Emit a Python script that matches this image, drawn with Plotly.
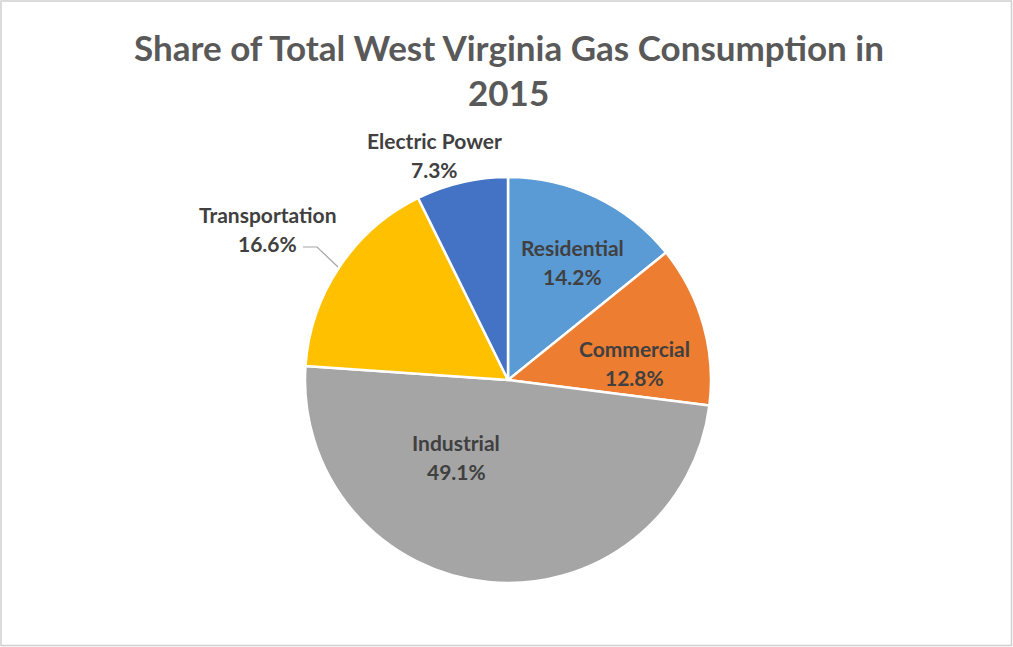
import plotly.graph_objects as go

categories = ["Residential", "Commercial", "Industrial", "Transportation", "Electric Power"]
shares = [14.2, 12.8, 49.1, 16.6, 7.3]
colors = ["#5B9BD5", "#ED7D31", "#A5A5A5", "#FFC000", "#4472C4"]
title_text = "Share of Total West Virginia Gas Consumption in<br>2015"

W, H = 1013, 647
# label block centers (pixels) for each category
label_px = {
    "Residential": (572, 262),
    "Commercial": (634, 363),
    "Industrial": (456, 457),
    "Transportation": (267, 229),
    "Electric Power": (434, 155),
}

def px(x, y):
    return x / W, 1 - y / H

FONT = "Lato, 'Open Sans', sans-serif"
LABEL_COLOR = "#404040"

fig = go.Figure(go.Pie(
    labels=categories,
    values=shares,
    sort=False,
    direction="clockwise",
    rotation=0,
    marker=dict(colors=colors, line=dict(color="white", width=2.5)),
    textinfo="none",
    hoverinfo="label+percent",
    showlegend=False,
    domain=dict(x=[305 / W, 711 / W], y=[1 - 583 / H, 1 - 177 / H]),
))

annotations = []
for cat, val in zip(categories, shares):
    cx, cy = label_px[cat]
    for txt, dy in ((cat, -14.5), (f"{val:.1f}%", 14.5)):
        x, y = px(cx, cy + dy)
        annotations.append(dict(
            x=x, y=y, xref="paper", yref="paper", text=f"<b>{txt}</b>",
            showarrow=False, xanchor="center", yanchor="middle",
            font=dict(family=FONT, size=21, color=LABEL_COLOR),
        ))

# title lines
for line, ty in ((title_text.split("<br>")[0], 47), (title_text.split("<br>")[1], 92)):
    x, y = px(W / 2 + 2, ty)
    annotations.append(dict(
        x=x, y=y, xref="paper", yref="paper", text=f"<b>{line}</b>",
        showarrow=False, xanchor="center", yanchor="middle",
        font=dict(family=FONT, size=35, color="#595959"),
    ))

# leader line for Transportation
p1 = px(303, 247)
p2 = px(317, 247)
p3 = px(338, 267)
shapes = [
    dict(type="path", xref="paper", yref="paper",
         path=f"M {p1[0]} {p1[1]} L {p2[0]} {p2[1]} L {p3[0]} {p3[1]}",
         line=dict(color="#A6A6A6", width=1.2)),
    dict(type="rect", xref="paper", yref="paper",
         x0=1 / W, x1=1 - 1.5 / W, y0=1.5 / H, y1=1 - 1 / H,
         line=dict(color="#D0D0D0", width=1.5)),
]

fig.update_layout(
    width=W, height=H,
    margin=dict(l=0, r=0, t=0, b=0),
    paper_bgcolor="white",
    plot_bgcolor="white",
    annotations=annotations,
    shapes=shapes,
)

fig.write_html(
    "out.html",
    config={"displayModeBar": False},
    post_script="document.body.style.margin='0';document.body.style.overflow='hidden';",
)
